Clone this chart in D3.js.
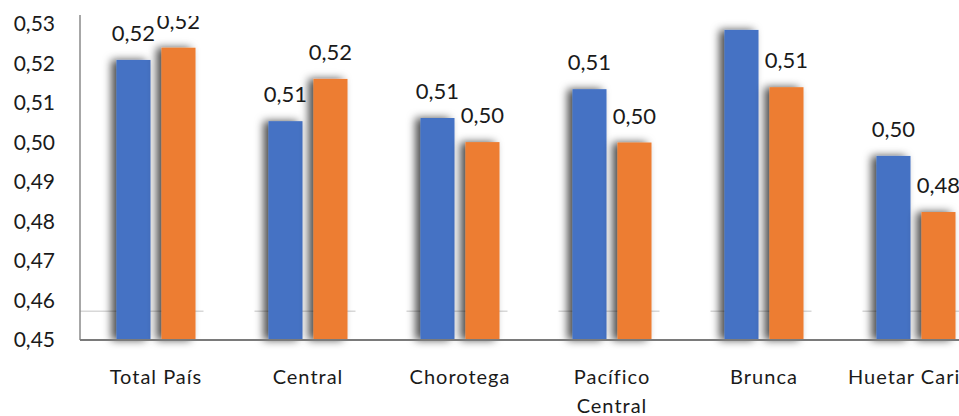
<!DOCTYPE html>
<html lang="es">
<head>
<meta charset="utf-8">
<script src="https://cdn.jsdelivr.net/npm/d3@7"></script>
<style>
  html, body { margin: 0; padding: 0; background: #ffffff; }
  svg { display: block; }
  text { font-family: Lato, "Noto Sans", sans-serif; fill: #1a1a1a; }
</style>
</head>
<body>
<svg id="chart" width="959" height="416"></svg>
<script>
// Regiones y valores del índice por serie
const categories = ["Total País", "Central", "Chorotega", "Pacífico Central", "Brunca", "Huetar Caribe"];
const seriesNames = ["serie1", "serie2"];
const serie1 = [0.5209, 0.5054, 0.5062, 0.5135, 0.5285, 0.4966];
const serie2 = [0.5240, 0.5161, 0.5001, 0.5000, 0.5140, 0.4824];
const yTicks = [0.45, 0.46, 0.47, 0.48, 0.49, 0.50, 0.51, 0.52, 0.53];
const guideValue = 0.4573;
const colors = ["#4472C4", "#ED7D31"];

const svg = d3.select("#chart");
const plotLeft = 80, plotTop = 15, plotBottom = 340, plotRight = 992;

const esLocale = d3.formatLocale({ decimal: ",", thousands: ".", grouping: [3], currency: ["", ""] });
const fmt = esLocale.format(".2f");

const x0 = d3.scaleBand().domain(categories).range([plotLeft, plotRight]);
const x1 = d3.scaleBand().domain(seriesNames).range([0, x0.bandwidth()])
  .paddingInner(0.244).paddingOuter(0.811);
const y = d3.scaleLinear().domain([0.45, 0.53228]).range([plotBottom, plotTop]);

const rows = categories.map((c, i) => ({ cat: c, vals: [serie1[i], serie2[i]] }));

// Sombra suave de las barras
const defs = svg.append("defs");
const f = defs.append("filter").attr("id", "shadow")
  .attr("x", "-60%").attr("y", "-10%").attr("width", "200%").attr("height", "120%");
f.append("feDropShadow").attr("dx", -5).attr("dy", 0).attr("stdDeviation", 4.5)
  .attr("flood-color", "#000").attr("flood-opacity", 0.7);
defs.append("clipPath").attr("id", "plotClip")
  .append("rect").attr("x", 0).attr("y", plotTop + 1).attr("width", 959).attr("height", 416 - plotTop);

// Línea guía tenue junto a cada grupo
svg.append("g").selectAll("line").data(rows).join("line")
  .attr("x1", (d, i) => i === 0 ? plotLeft : x0(d.cat) + x1("serie1") - 14)
  .attr("x2", d => x0(d.cat) + x1("serie2") + x1.bandwidth() + 8)
  .attr("y1", y(guideValue)).attr("y2", y(guideValue))
  .attr("stroke", "#c4c4c4").attr("stroke-width", 1);

// Barras
const groups = svg.append("g").selectAll("g").data(rows).join("g")
  .attr("transform", d => `translate(${x0(d.cat)},0)`);

groups.selectAll("rect").data(d => d.vals.map((v, k) => ({ v, k })))
  .join("rect")
  .attr("x", d => x1(seriesNames[d.k]))
  .attr("y", d => y(d.v))
  .attr("width", x1.bandwidth())
  .attr("height", d => y(0.45) - y(d.v))
  .attr("fill", d => colors[d.k])
  .attr("filter", "url(#shadow)");

// Etiquetas de valor
const labels = svg.append("g").attr("clip-path", "url(#plotClip)");
labels.selectAll("g").data(rows).join("g")
  .attr("transform", d => `translate(${x0(d.cat)},0)`)
  .selectAll("text").data(d => d.vals.map((v, k) => ({ v, k })))
  .join("text")
  .attr("x", d => x1(seriesNames[d.k]) + x1.bandwidth() / 2)
  .attr("y", d => y(d.v) - 19)
  .attr("text-anchor", "middle")
  .attr("font-size", 22)
  .text(d => fmt(d.v));

// Eje Y
const yAxis = svg.append("g")
  .attr("transform", `translate(${plotLeft},0)`)
  .call(d3.axisLeft(y).tickValues(yTicks).tickSize(0).tickPadding(25).tickFormat(fmt));
yAxis.select(".domain").remove();
yAxis.selectAll("text").attr("font-size", 21).attr("fill", "#1a1a1a")
  .attr("font-family", "Lato, 'Noto Sans', sans-serif");

svg.append("line")
  .attr("x1", plotLeft).attr("x2", plotLeft)
  .attr("y1", plotTop).attr("y2", plotBottom)
  .attr("stroke", "#8a8a8a").attr("stroke-width", 1.5);

// Eje X (línea base)
svg.append("line")
  .attr("x1", plotLeft).attr("x2", plotRight)
  .attr("y1", plotBottom).attr("y2", plotBottom)
  .attr("stroke", "#7a7a7a").attr("stroke-width", 2);

// Nombres de categorías (dos líneas para "Pacífico Central")
const catLabels = svg.append("g").selectAll("text").data(categories).join("text")
  .attr("x", d => x0(d) + x0.bandwidth() / 2)
  .attr("y", 384)
  .attr("text-anchor", "middle")
  .attr("font-size", 20)
  .attr("letter-spacing", 1);
catLabels.each(function (d) {
  const t = d3.select(this);
  const words = d === "Pacífico Central" ? ["Pacífico", "Central"] : [d];
  words.forEach((w, i) => {
    t.append("tspan").attr("x", x0(d) + x0.bandwidth() / 2)
      .attr("dy", i === 0 ? 0 : 29).text(w);
  });
});
</script>
</body>
</html>
